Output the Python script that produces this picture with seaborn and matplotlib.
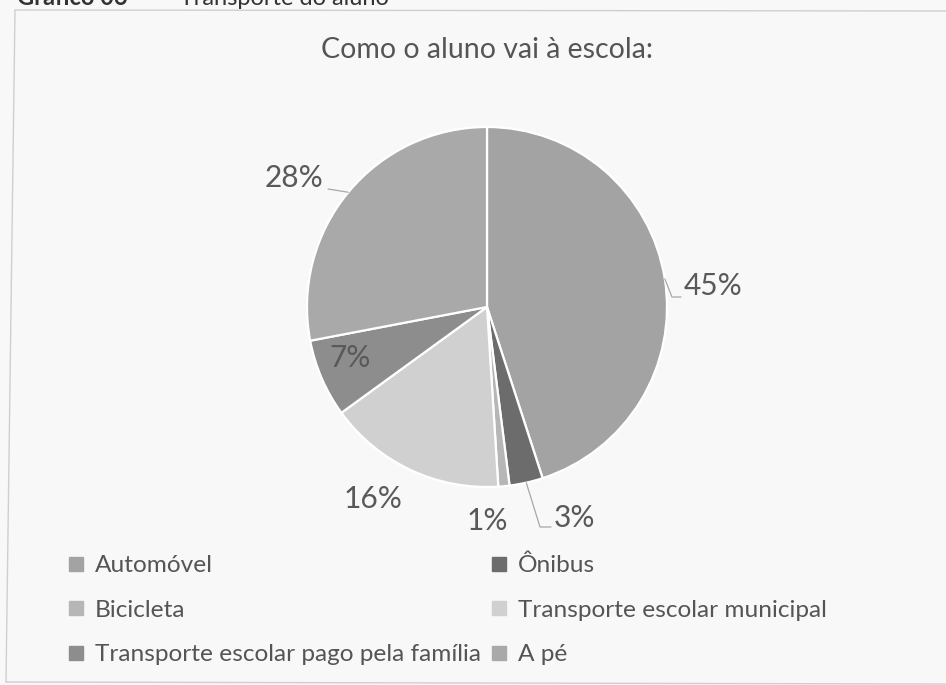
import matplotlib
matplotlib.use("Agg")
import matplotlib.pyplot as plt
from matplotlib.lines import Line2D
import numpy as np
import seaborn as sns

# ---- data ----
categories = ["Automóvel", "Ônibus", "Bicicleta", "Transporte escolar municipal",
              "Transporte escolar pago pela família", "A pé"]
values = [45, 3, 1, 16, 7, 28]
colors = ["#a3a3a3", "#6c6c6c", "#b6b6b6", "#d0d0d0", "#8d8d8d", "#a9a9a9"]
title = "Como o aluno vai à escola:"
header_bold = "Gráfico 06"
header_rest = " –  Transporte do aluno"

sns.set_theme(style="white")
plt.rcParams["font.family"] = ["Lato", "DejaVu Sans"]

W, H = 946, 685
BG = "#f8f8f8"
fig = plt.figure(figsize=(W / 100, H / 100), dpi=100, facecolor=BG)
ax = fig.add_axes([0, 0, 1, 1])
ax.set_facecolor(BG)


def py(y):
    """pixel row (from top) -> data y"""
    return H - y


cx, cy, R = 487, py(307), 180
wedges, _ = ax.pie(values, colors=colors, center=(cx, cy), radius=R,
                   startangle=90, counterclock=False,
                   wedgeprops=dict(edgecolor="white", linewidth=1.6))
ax.set_xlim(0, W)
ax.set_ylim(0, H)
ax.set_aspect("equal")
ax.axis("off")

# mid angles of wedges
mids = [np.deg2rad((w.theta1 + w.theta2) / 2) for w in wedges]

label_xy = [(713, 286), (574, 518), (487, 521), (373, 499), (350, 358), (294, 178)]
txtcol = "#595959"
for v, (lx, ly) in zip(values, label_xy):
    ax.text(lx, py(ly), f"{v}%", ha="center", va="center", fontsize=21.5,
            color=txtcol)

# leader lines
lc = "#a8a8a8"
def edge(i):
    return cx + R * np.cos(mids[i]), cy + R * np.sin(mids[i])

x0, y0 = edge(0)
ax.plot([x0, 672, 681], [y0, py(297), py(297)], color=lc, lw=0.9)
x0, y0 = edge(1)
ax.plot([x0, 540, 551], [y0, py(527), py(527)], color=lc, lw=0.9)
x0, y0 = edge(5)
ax.plot([x0, 328], [y0, py(189)], color=lc, lw=0.9)

# title
ax.text(487, py(58), title, ha="center", va="baseline", fontsize=20.5, color="#555555")

# header (cut off at top, as in the scanned reference)
ax.text(17, py(5), header_bold, ha="left", va="baseline", fontsize=17,
        fontweight="bold", color="#333333")
ax.text(148, py(5), header_rest, ha="left", va="baseline", fontsize=17,
        color="#333333")

# frame of chart area
fc = "#cfcfcf"
ax.plot([15, W], [py(10), py(11)], color=fc, lw=1)
ax.plot([15, 6], [py(10), py(682)], color=fc, lw=1)
ax.plot([6, W], [py(682), py(684)], color=fc, lw=1)

# legend (row-major order -> column-major for matplotlib)
handles = [Line2D([], [], marker="s", linestyle="", markersize=9.5,
                  markerfacecolor=c, markeredgecolor=c) for c in colors]
order = [0, 2, 4, 1, 3, 5]
leg = ax.legend([handles[i] for i in order], [categories[i] for i in order],
                ncol=2, loc="upper left", bbox_to_anchor=(67 / W, 1 - 555 / H),
                bbox_transform=fig.transFigure, frameon=False, fontsize=17.6,
                labelcolor="#555555", handlelength=0.75, handletextpad=0.4,
                labelspacing=0.95, columnspacing=0.35, borderpad=0, borderaxespad=0)

fig.savefig("out.png", dpi=100, facecolor=BG)
